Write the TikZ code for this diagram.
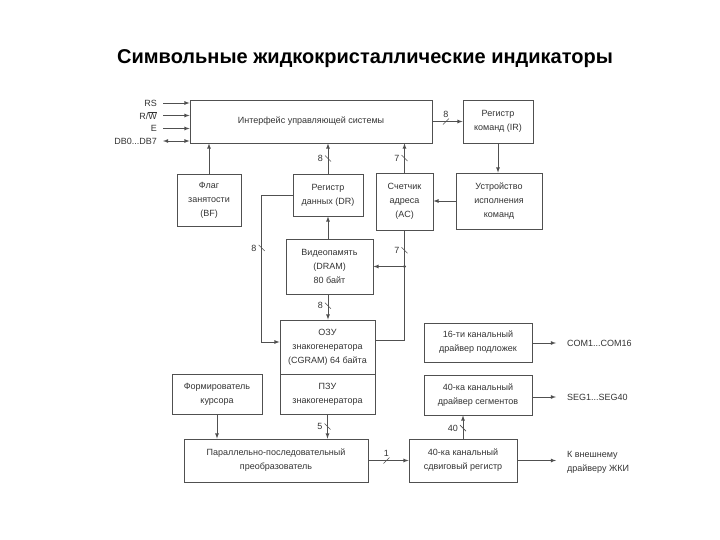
\documentclass[tikz,border=0pt]{standalone}
\usepackage{fontspec}
\setmainfont{Liberation Sans}
\usetikzlibrary{arrows,positioning,calc}

\definecolor{linegray}{HTML}{505050}
\definecolor{textgray}{HTML}{333333}

\tikzset{
  blk/.style={draw=linegray, line width=0.8pt, align=center, inner sep=2pt,
    text=textgray, font=\fontsize{9}{14}\selectfont},
  conn/.style={draw=linegray, line width=0.8pt, >=latex},
  lbl/.style={text=textgray, font=\fontsize{9}{14}\selectfont, inner sep=1pt},
  busline/.style={draw=linegray, line width=0.6pt}
}

\begin{document}
\begin{tikzpicture}[x=1pt, y=-1pt]
	\useasboundingbox (0,0) rectangle (720,540);

	\node[font=\fontsize{20}{24}\selectfont\bfseries] (title) at (365,59) {Символьные жидкокристаллические индикаторы};

	% upper row
	\node[blk, minimum width=242, minimum height=43] (iface) at (311,121.5) {Интерфейс управляющей системы};
	\node[blk, minimum width=70, minimum height=43] (ir) at (498,121.5) {Регистр\\команд (IR)};
	\node[blk, minimum width=64, minimum height=52] (bf) at (209,200) {Флаг\\занятости\\(BF)};
	\node[blk, minimum width=70, minimum height=42] (dr) at (328,195) {Регистр\\данных (DR)};
	\node[blk, minimum width=57, minimum height=57] (ac) at (404.5,201.5) {Счетчик\\адреса\\(AC)};
	\node[blk, minimum width=86, minimum height=56] (exec) at (499,201) {Устройство\\исполнения\\команд};

	% memory
	\node[blk, minimum width=87, minimum height=55] (dram) at (329.5,266.5) {Видеопамять\\(DRAM)\\80 байт};
	\node[blk, minimum width=95, minimum height=54] (cgram) at (327.5,347) {ОЗУ\\знакогенератора\\(CGRAM) 64 байта};
	\node[blk, minimum width=95, minimum height=40] (rom) at (327.5,394) {ПЗУ\\знакогенератора};
	\node[blk, minimum width=90, minimum height=40] (cur) at (217,394) {Формирователь\\курсора};

	% lower row
	\node[blk, minimum width=184, minimum height=43] (par) at (276,460.5) {Параллельно-последовательный\\преобразователь};
	\node[blk, minimum width=108, minimum height=43] (shift) at (463,460.5) {40-ка канальный\\сдвиговый регистр};
	\node[blk, minimum width=108, minimum height=40] (seg) at (478,395) {40-ка канальный\\драйвер сегментов};
	\node[blk, minimum width=108, minimum height=39] (com) at (478,342.5) {16-ти канальный\\драйвер подложек};

	% input signals
	\node[lbl, anchor=east] (rs) at (158,103) {RS};
	\node[lbl, anchor=east] (rw) at (158,115.5) {R/$\overline{\mbox{W}}$};
	\node[lbl, anchor=east] (en) at (158,128.5) {E};
	\node[lbl, anchor=east] (db) at (158,141) {DB0...DB7};
	\draw[conn, ->] ([xshift=5pt]rs.east) -- (iface.west |- rs.east);
	\draw[conn, ->] ([xshift=5pt]rw.east) -- (iface.west |- rw.east);
	\draw[conn, ->] ([xshift=5pt]en.east) -- (iface.west |- en.east);
	\draw[conn, <->] ([xshift=5pt]db.east) -- (iface.west |- db.east);

	% outputs
	\node[lbl, anchor=west] (comout) at (566,343) {COM1...COM16};
	\node[lbl, anchor=west] (segout) at (566,397) {SEG1...SEG40};
	\node[lbl, anchor=west, align=left] (lcd) at (566,462) {К внешнему\\драйверу ЖКИ};
	\draw[conn, ->] (com.east |- comout.west) -- ([xshift=-10pt]comout.west);
	\draw[conn, ->] (seg.east |- segout.west) -- ([xshift=-10pt]segout.west);
	\draw[conn, ->] (shift.east) -- ([xshift=-10pt]lcd.west |- shift.east);

	% connections
	\draw[conn, ->] (iface.east) -- coordinate[pos=.45] (b1) (ir.west);
	\draw[conn, ->] (bf.north) -- (bf.north |- iface.south);
	\draw[conn, ->] (dr.north) -- coordinate[pos=.5] (b2) (dr.north |- iface.south);
	\draw[conn, ->] (ac.north) -- coordinate[pos=.5] (b3) (ac.north |- iface.south);
	\draw[conn, ->] (ir.south) -- (ir.south |- exec.north);
	\draw[conn, ->] (exec.west) -- (ac.east |- exec.west);
	\draw[conn, ->] (dram.north -| dr.south) -- (dr.south);
	\draw[conn, ->] (dram.south -| dr.south) -- coordinate[pos=.45] (b4) (cgram.north -| dr.south);
	\draw[conn, ->] (dr.west) -- ++(-31,0) |- coordinate[pos=.18] (b5) ([yshift=5pt]cgram.west);
	\draw[conn] (ac.south) -- coordinate[pos=.55] (b6) (ac.south |- dram.east) |- ([yshift=7pt]cgram.east);
	\draw[conn, ->] (ac.south |- dram.east) -- (dram.east);
	\fill[linegray] (ac.south |- dram.east) circle (1.6);
	\draw[conn, ->] (cur.south) -- (cur.south |- par.north);
	\draw[conn, ->] (rom.south) -- coordinate[pos=.5] (b7) (rom.south |- par.north);
	\draw[conn, ->] (par.east) -- coordinate[pos=.45] (b8) (shift.west);
	\draw[conn, ->] (shift.north) -- coordinate[pos=.45] (b9) (shift.north |- seg.south);

	% bus widths
	\draw[busline] (b1) ++(-3,3) -- ++(6,-6);
	\node[lbl, above=3pt of b1] {8};
	\draw[busline] (b2) ++(-3,-3) -- ++(6,6);
	\node[lbl, left=4pt of b2] {8};
	\draw[busline] (b3) ++(-3,-3) -- ++(6,6);
	\node[lbl, left=4pt of b3] {7};
	\draw[busline] (b4) ++(-3,-3) -- ++(6,6);
	\node[lbl, left=4pt of b4] {8};
	\draw[busline] (b5) ++(-3,-3) -- ++(6,6);
	\node[lbl, left=4pt of b5] {8};
	\draw[busline] (b6) ++(-3,-3) -- ++(6,6);
	\node[lbl, left=4pt of b6] {7};
	\draw[busline] (b7) ++(-3,-3) -- ++(6,6);
	\node[lbl, left=4pt of b7] {5};
	\draw[busline] (b8) ++(-3,3) -- ++(6,-6);
	\node[lbl, above=3pt of b8] {1};
	\draw[busline] (b9) ++(-3,-3) -- ++(6,6);
	\node[lbl, left=4pt of b9] {40};
\end{tikzpicture}
\end{document}
